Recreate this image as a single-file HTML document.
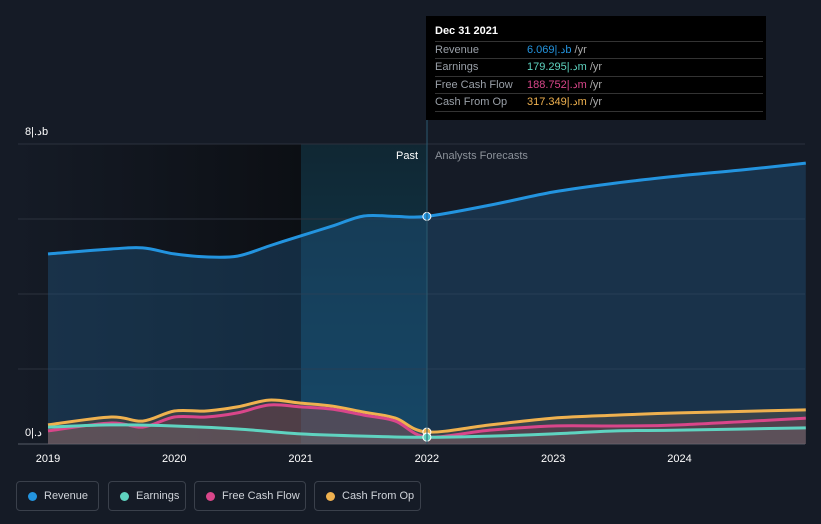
<!DOCTYPE html>
<html><head><meta charset="utf-8"><style>
body{margin:0;background:#151b26;font-family:"Liberation Sans",sans-serif;}
#c{position:relative;width:821px;height:524px;overflow:hidden;}
.leg{position:absolute;top:481px;height:30px;border:1px solid #3a404b;border-radius:4px;color:#d0d4da;font-size:11px;line-height:28px;box-sizing:border-box;padding-left:27px;white-space:nowrap}
.leg i{position:absolute;left:11px;top:10px;width:9px;height:9px;border-radius:50%}
.tt{position:absolute;left:426px;top:16px;width:340px;height:104px;background:#000;color:#fff;font-size:11px}
.row{position:absolute;left:9px;width:328px;border-top:1px solid #333;height:17px;line-height:17px;color:#9aa0a8}
.row span{position:absolute;left:92px}
</style></head><body>
<div id="c">
<svg id="s" width="821" height="524" style="position:absolute;left:0;top:0">
<defs>
<linearGradient id="dk" x1="0" x2="1"><stop offset="0" stop-color="#151b26"/><stop offset="1" stop-color="#0c0f14"/></linearGradient>
<linearGradient id="hl" x1="0" x2="0" y1="0" y2="1"><stop offset="0" stop-color="#0f2a36"/><stop offset="1" stop-color="#0d4a66"/></linearGradient>
</defs>
<rect x="18" y="144" width="283" height="300" fill="url(#dk)"/>
<rect x="301" y="144" width="126" height="300" fill="url(#hl)" opacity="0.8"/>
<g id="grid"></g><g id="areas"></g><g id="lines"></g><g id="axis"></g>
</svg>
<div style="position:absolute;left:25px;top:125px;color:#fff;font-size:11px">8|.دb</div>
<div style="position:absolute;left:25px;top:426px;color:#fff;font-size:11px">0|.د</div>
<div style="position:absolute;left:396px;top:150px;color:#fff;font-size:11px">Past</div>
<div style="position:absolute;left:435px;top:150px;color:#8c929a;font-size:11px">Analysts Forecasts</div>
<div class="tt">
<div style="position:absolute;left:9px;top:9px;font-weight:bold">Dec 31 2021</div>
<div class="row" style="top:25px">Revenue<span style="color:#2394df">6.069|.دb <b style="font-weight:normal;color:#aaa">/yr</b></span></div>
<div class="row" style="top:42px">Earnings<span style="color:#5fd3c0">179.295|.دm <b style="font-weight:normal;color:#aaa">/yr</b></span></div>
<div class="row" style="top:60px">Free Cash Flow<span style="color:#d9468a">188.752|.دm <b style="font-weight:normal;color:#aaa">/yr</b></span></div>
<div class="row" style="top:77px">Cash From Op<span style="color:#efb14f">317.349|.دm <b style="font-weight:normal;color:#aaa">/yr</b></span></div>
<div class="row" style="top:95px;height:0"></div>
</div>
<div class="leg" style="left:16px;width:83px"><i style="background:#2394df"></i>Revenue</div>
<div class="leg" style="left:108px;width:78px"><i style="background:#5fd3c0"></i>Earnings</div>
<div class="leg" style="left:194px;width:112px"><i style="background:#d9468a"></i>Free Cash Flow</div>
<div class="leg" style="left:314px;width:107px"><i style="background:#efb14f"></i>Cash From Op</div>
</div>
<script>
const revX=[2019,2019.5,2019.75,2020,2020.25,2020.5,2020.75,2021,2021.25,2021.5,2021.75,2022,2022.5,2023,2023.5,2024,2024.5,2025];
const revenue=[5.07,5.2,5.23,5.07,4.99,5.01,5.28,5.55,5.81,6.08,6.07,6.07,6.37,6.72,6.96,7.15,7.31,7.49];
const cfX=[2019,2019.5,2019.75,2020,2020.25,2020.5,2020.75,2021,2021.25,2021.5,2021.75,2022,2022.5,2023,2023.5,2024,2025];
const cashOp=[0.51,0.72,0.61,0.88,0.88,0.99,1.17,1.09,1.01,0.85,0.69,0.32,0.51,0.69,0.77,0.83,0.91];
const fcf=[0.35,0.56,0.45,0.72,0.72,0.83,1.04,0.99,0.93,0.77,0.61,0.19,0.37,0.48,0.48,0.51,0.69];
const earnX=[2019,2019.5,2020,2020.5,2021,2021.5,2022,2022.5,2023,2023.5,2024,2025];
const earnings=[0.45,0.51,0.48,0.4,0.27,0.21,0.18,0.21,0.27,0.35,0.37,0.43];
const yearTicks=[2019,2020,2021,2022,2023,2024];
const yTicks=[0,2,4,6,8];
const X=t=>48+(t-2019)*126.3, Y=v=>444-v*37.5;
const NS="http://www.w3.org/2000/svg";
function mk(p,tag,a){const e=document.createElementNS(NS,tag);for(const k in a)e.setAttribute(k,a[k]);document.getElementById(p).appendChild(e);return e;}
yTicks.forEach(v=>{const e=mk('grid','line',{x1:18,x2:805,y1:Y(v),y2:Y(v),stroke:v==0?'#555b66':'#2c323d','stroke-width':1});

});
yearTicks.forEach(t=>{const e=mk('axis','text',{x:X(t),y:462,fill:'#fff','font-size':11,'text-anchor':'middle'});e.textContent=t;

});
mk('axis','line',{x1:427,x2:427,y1:120,y2:444,stroke:'#2a5a70','stroke-width':1});
function path(xs,vs){
 const p=xs.map((t,i)=>[X(t),Y(vs[i])]);
 let d='M'+p[0][0].toFixed(1)+','+p[0][1].toFixed(1);
 for(let i=0;i<p.length-1;i++){
  const p0=p[Math.max(0,i-1)],p1=p[i],p2=p[i+1],p3=p[Math.min(p.length-1,i+2)];
  const c1=[p1[0]+(p2[0]-p0[0])/6,p1[1]+(p2[1]-p0[1])/6];
  const c2=[p2[0]-(p3[0]-p1[0])/6,p2[1]-(p3[1]-p1[1])/6];
  d+='C'+c1.map(v=>v.toFixed(1))+' '+c2.map(v=>v.toFixed(1))+' '+p2.map(v=>v.toFixed(1));
 }
 return d;
}
const series=[[revX,revenue,'#2394df','rgba(30,80,120,0.45)','revenue'],[cfX,cashOp,'#efb14f','rgba(150,120,80,0.25)','cash-from-op'],[cfX,fcf,'#d9468a','rgba(140,60,80,0.3)','free-cash-flow'],[earnX,earnings,'#5fd3c0','rgba(120,120,120,0.3)','earnings']];
series.forEach(([xs,vs,c,f,n])=>{
const d=path(xs,vs);
const a=mk('areas','path',{d:d+'L'+X(xs[xs.length-1])+',444L'+X(xs[0])+',444Z',fill:f});


const l=mk('lines','path',{d:d,fill:'none',stroke:c,'stroke-width':3,'stroke-linejoin':'round'});


const i=xs.indexOf(2022);
const p=mk('lines','circle',{cx:X(2022),cy:Y(vs[i]),r:4,fill:c,stroke:'#fff','stroke-width':1});


});
</script>
</body></html>
